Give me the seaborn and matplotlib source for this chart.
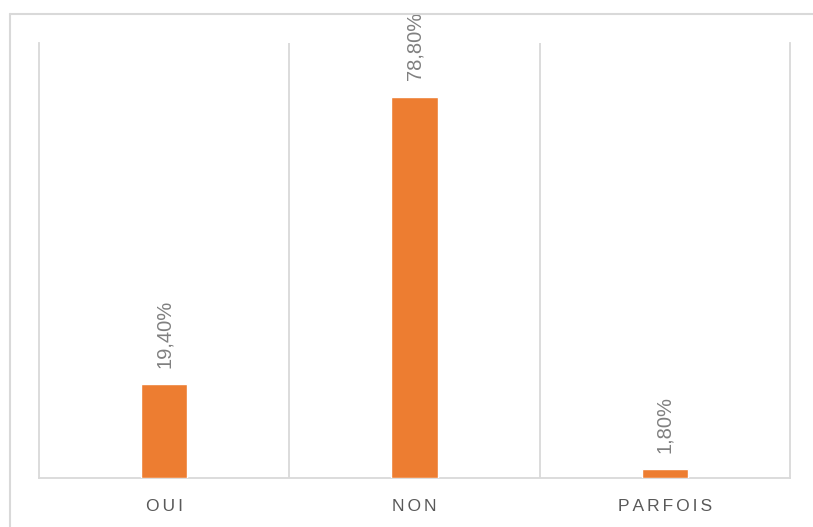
import matplotlib
matplotlib.use("Agg")
import matplotlib.pyplot as plt
import seaborn as sns
import pandas as pd
from matplotlib.lines import Line2D

categories = ["OUI", "NON", "PARFOIS"]
values = [19.4, 78.8, 1.8]
labels = ["19,40%", "78,80%", "1,80%"]

sns.set_theme(style="white")
plt.rcParams["font.family"] = ["Liberation Sans", "DejaVu Sans"]

df = pd.DataFrame({"cat": categories, "val": values})

W, H = 813, 527
fig = plt.figure(figsize=(W / 100, H / 100), dpi=100)
ax = fig.add_axes([39 / W, 1 - 478 / H, (790 - 39) / W, (478 - 43) / H])

sns.barplot(data=df, x="cat", y="val", color="#ED7D31", width=0.184,
            saturation=1, ax=ax, zorder=3)

ax.set_xlim(-0.5, 2.5)
ax.set_ylim(0, 90)
ax.set_yticks([])
ax.set_xlabel("")
ax.set_ylabel("")

grid_c = "#D9D9D9"
for s in ["left", "right", "bottom"]:
    ax.spines[s].set_visible(True)
    ax.spines[s].set_color(grid_c)
    ax.spines[s].set_linewidth(1.3)
ax.spines["top"].set_visible(False)

ax.set_xticks([0.5, 1.5], minor=True)
ax.grid(which="minor", axis="x", color=grid_c, linewidth=1.3)
ax.tick_params(axis="x", which="both", length=0, pad=15)

spaced = ["\u200a\u200a".join(c) for c in categories]
ax.set_xticks(range(len(categories)))
ax.set_xticklabels(spaced, fontsize=12.5, color="#595959")

for i, (v, t) in enumerate(zip(values, labels)):
    ax.annotate(t, xy=(i, v), xytext=(0, 12), textcoords="offset points",
                rotation=90, ha="center", va="bottom", fontsize=14.5,
                color="#808080")

x0 = 10 / W
y0 = 1 - 14 / H
fig.add_artist(Line2D([x0, x0], [0, y0], transform=fig.transFigure,
                      color=grid_c, linewidth=1.5))
fig.add_artist(Line2D([x0, 1], [y0, y0], transform=fig.transFigure,
                      color=grid_c, linewidth=1.5))

fig.savefig("out.png", dpi=100, facecolor="white")
